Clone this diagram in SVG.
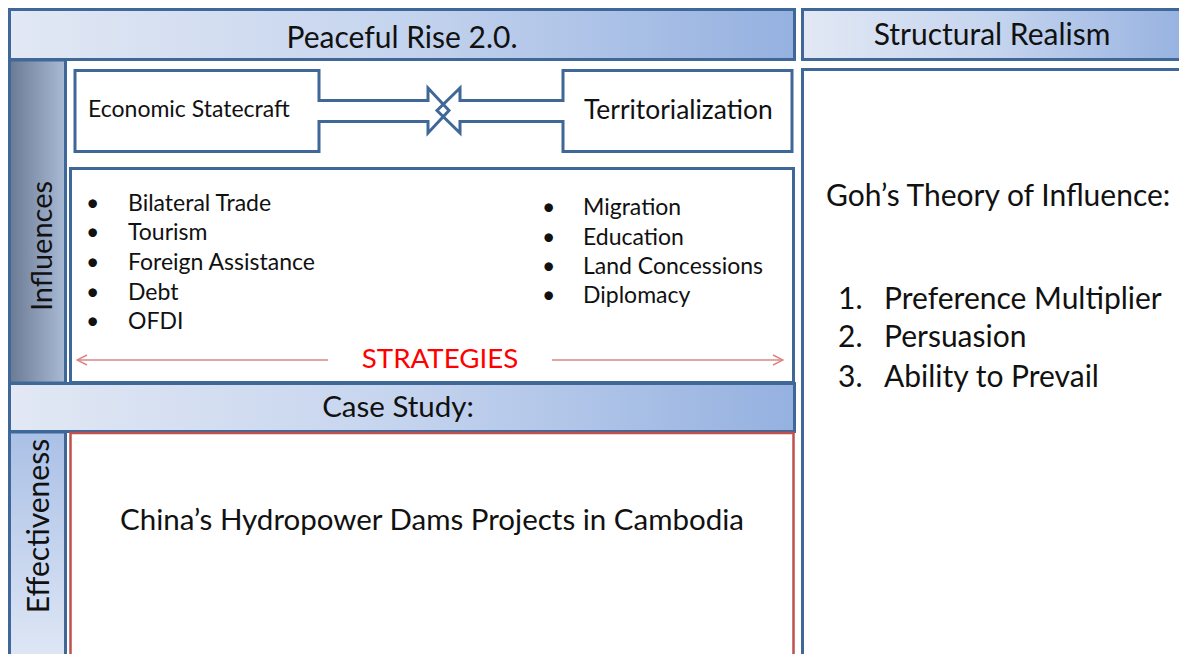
<svg xmlns="http://www.w3.org/2000/svg" width="1179" height="654" viewBox="0 0 1179 654">
  <defs>
    <linearGradient id="hdr" x1="0" y1="0" x2="1" y2="0">
      <stop offset="0" stop-color="#e2e8f4"/>
      <stop offset="0.5" stop-color="#c5d4ee"/>
      <stop offset="1" stop-color="#95b1e0"/>
    </linearGradient>
    <linearGradient id="side" x1="0" y1="0" x2="1" y2="0">
      <stop offset="0" stop-color="#6b7a93"/>
      <stop offset="1" stop-color="#aabbd6"/>
    </linearGradient>
    <linearGradient id="side2" x1="0" y1="0" x2="0" y2="1">
      <stop offset="0" stop-color="#aac0e6"/>
      <stop offset="1" stop-color="#e2e9f6"/>
    </linearGradient>
    <marker id="chev" viewBox="0 0 12 12" refX="11" refY="6" markerWidth="12" markerHeight="12" markerUnits="userSpaceOnUse" orient="auto">
      <path d="M1,1 L11,6 L1,11" fill="none" stroke="#dc8686" stroke-width="1.5"/>
    </marker>
    <style>
      .box { fill: #ffffff; stroke: #3f6898; stroke-width: 3; }
      .shape { fill: none; stroke: #3f6898; stroke-width: 3; stroke-linejoin: miter; }
      .hdr { fill: url(#hdr); stroke: #3f6898; stroke-width: 3; }
      .t { font-family: Lato, "Liberation Sans", sans-serif; fill: #111111; }
      .red { fill: none; stroke: #c0504d; stroke-width: 2.5; }
      .strat { stroke: #dc8686; stroke-width: 1.5; fill: none; }
    </style>
  </defs>

  <rect width="1179" height="654" fill="#ffffff"/>

  <!-- Peaceful Rise header -->
  <g id="peaceful-rise">
    <rect class="hdr" x="9.5" y="9.5" width="785" height="50"/>
    <text class="t" x="402" y="48" font-size="30" text-anchor="middle">Peaceful Rise 2.0.</text>
  </g>

  <!-- Structural Realism header -->
  <g id="structural-realism">
    <rect class="hdr" x="802.5" y="9.5" width="390" height="50"/>
    <text class="t" x="992" y="45" font-size="30" text-anchor="middle">Structural Realism</text>
  </g>

  <!-- Goh's theory panel -->
  <g id="goh-theory">
    <rect class="box" x="802.5" y="69.5" width="390" height="600"/>
    <text class="t" x="826" y="206" font-size="30">Goh’s Theory of Influence:</text>
    <text class="t" x="838" y="309" font-size="30">1.</text>
    <text class="t" x="884" y="309" font-size="30">Preference Multiplier</text>
    <text class="t" x="838" y="347" font-size="30">2.</text>
    <text class="t" x="884" y="347" font-size="30">Persuasion</text>
    <text class="t" x="838" y="387" font-size="30">3.</text>
    <text class="t" x="884" y="387" font-size="30">Ability to Prevail</text>
  </g>

  <!-- Influences side bar -->
  <g id="influences">
    <rect x="9.5" y="60" width="56" height="323" fill="url(#side)" stroke="#3f6898" stroke-width="3"/>
    <text class="t" transform="translate(52,246) rotate(-90)" font-size="29" text-anchor="middle">Influences</text>
  </g>

  <!-- Economic Statecraft -->
  <g id="economic-statecraft">
    <rect x="75" y="70.5" width="244" height="81" fill="#ffffff"/>
    <path class="shape" d="M75,70.5 H319 V100.5 H428 V88 L449,110.5 L428,133 V121.5 H319 V151.5 H75 Z"/>
    <text class="t" x="88" y="117" font-size="23">Economic Statecraft</text>
  </g>

  <!-- Territorialization -->
  <g id="territorialization">
    <path class="shape" d="M563,70.5 H792 V151.5 H563 V121.5 H460 V133 L437,110.5 L460,88 V100.5 H563 Z"/>
    <text class="t" x="584" y="119" font-size="26.4">Territorialization</text>
  </g>

  <!-- Strategies panel -->
  <g id="strategies">
    <rect class="box" x="70.5" y="168.5" width="723" height="214"/>
    <g class="t" font-size="23">
      <text x="86" y="211">•</text>
      <text x="128" y="211">Bilateral Trade</text>
      <text x="86" y="240">•</text>
      <text x="128" y="240">Tourism</text>
      <text x="86" y="270">•</text>
      <text x="128" y="270">Foreign Assistance</text>
      <text x="86" y="300">•</text>
      <text x="128" y="300">Debt</text>
      <text x="86" y="329">•</text>
      <text x="128" y="329">OFDI</text>
      <text x="542" y="215">•</text>
      <text x="583" y="215">Migration</text>
      <text x="542" y="245">•</text>
      <text x="583" y="245">Education</text>
      <text x="542" y="274">•</text>
      <text x="583" y="274">Land Concessions</text>
      <text x="542" y="303">•</text>
      <text x="583" y="303">Diplomacy</text>
    </g>
    <text x="440" y="368" font-family="Lato, 'Liberation Sans', sans-serif" font-size="27.7" fill="#ff0000" text-anchor="middle">STRATEGIES</text>
  </g>

  <!-- Case Study header -->
  <g id="case-study">
    <rect class="hdr" x="9.5" y="383.5" width="785" height="48"/>
    <text class="t" x="398" y="417" font-size="29.5" text-anchor="middle">Case Study:</text>
  </g>

  <!-- Effectiveness side bar -->
  <g id="effectiveness">
    <rect x="9.5" y="432" width="56" height="240" fill="url(#side2)" stroke="#3f6898" stroke-width="3"/>
    <text class="t" transform="translate(49,526) rotate(-90)" font-size="30" text-anchor="middle">Effectiveness</text>
  </g>

  <!-- Case study content -->
  <g id="hydropower">
    <rect class="red" x="70.5" y="433" width="723" height="240"/>
    <text class="t" x="432" y="530" font-size="29.5" text-anchor="middle">China’s Hydropower Dams Projects in Cambodia</text>
  </g>

  <!-- Connectors -->
  <g id="connectors">
    <line class="strat" x1="328" y1="360" x2="77" y2="360" marker-end="url(#chev)"/>
    <line class="strat" x1="552" y1="360" x2="783" y2="360" marker-end="url(#chev)"/>
  </g>
</svg>
